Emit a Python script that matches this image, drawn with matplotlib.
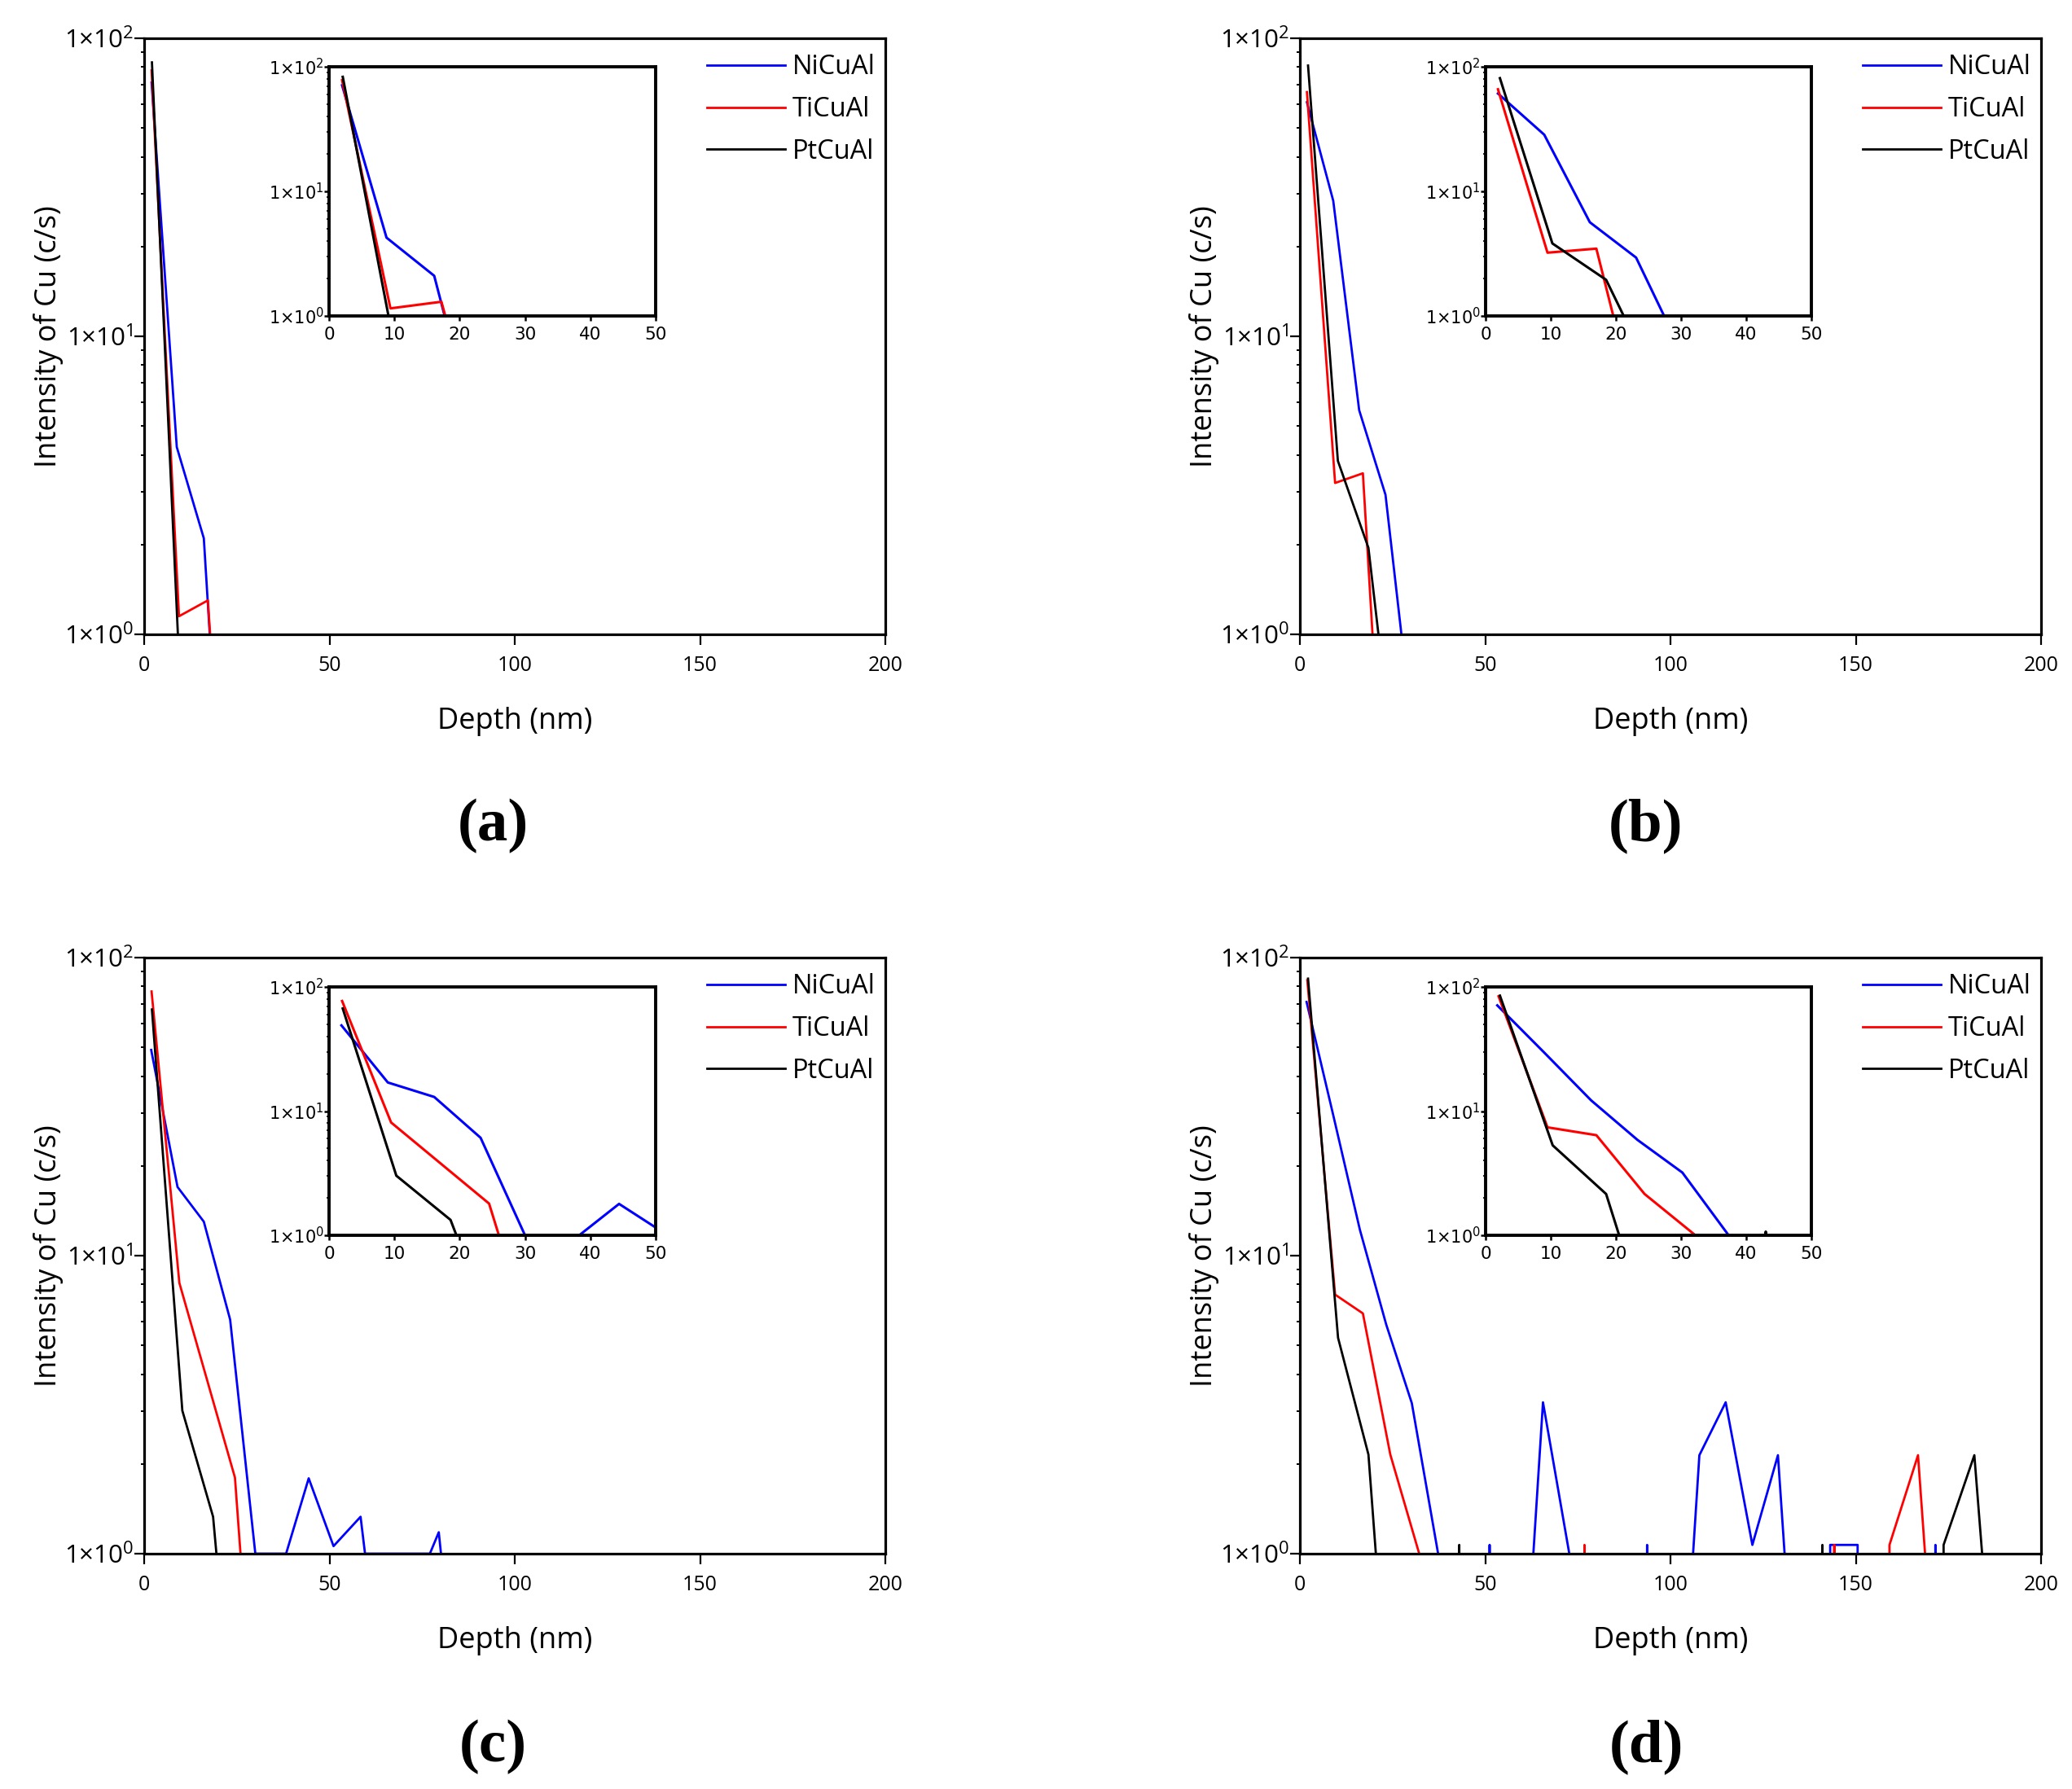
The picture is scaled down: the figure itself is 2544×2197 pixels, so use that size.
import numpy as np
import matplotlib
matplotlib.use('Agg')
import matplotlib.pyplot as plt
from matplotlib.ticker import FuncFormatter, NullLocator, NullFormatter, LogLocator, MultipleLocator

plt.rcParams['font.family'] = ['Open Sans', 'DejaVu Sans']
plt.rcParams['mathtext.fontset'] = 'custom'
plt.rcParams['mathtext.rm'] = 'Open Sans'
plt.rcParams['mathtext.default'] = 'regular'

series_names = ['NiCuAl', 'TiCuAl', 'PtCuAl']
series_colors = ['#0000ff', '#ff0000', '#000000']
panel_tags = ['(a)', '(b)', '(c)', '(d)']

# depth (nm) and Cu intensity (c/s), 0 = no counts
a_ni_depth = [2.0, 8.8, 16.1, 17.7]
a_ni_cu = [71, 4.25, 2.1, 1.0]
a_ti_depth = [2.0, 9.4, 17.2, 17.8]
a_ti_cu = [78, 1.15, 1.3, 1.0]
a_pt_depth = [2.1, 9.1]
a_pt_cu = [83, 1.0]

b_ni_depth = [1.9, 9.0, 16.0, 23.1, 27.4]
b_ni_cu = [61, 28.5, 5.65, 2.94, 1.0]
b_ti_depth = [1.9, 9.5, 17.0, 19.6]
b_ti_cu = [66, 3.22, 3.47, 1.0]
b_pt_depth = [2.2, 10.25, 18.5, 21.2]
b_pt_cu = [81, 3.82, 1.95, 1.0]

c_ni_depth = [1.9, 9.0, 16.1, 23.2, 30.0, 38.3, 44.4, 51.1, 58.4, 59.6, 77.1, 79.5, 80.1]
c_ni_cu = [49, 17.0, 13.0, 6.1, 1.0, 1.0, 1.79, 1.06, 1.33, 1.0, 1.0, 1.18, 1.0]
c_ti_depth = [2.0, 9.5, 24.5, 26.0]
c_ti_cu = [77, 8.1, 1.8, 1.0]
c_pt_depth = [2.1, 10.3, 18.6, 19.5]
c_pt_cu = [67, 3.02, 1.33, 1.0]

d_ni_depth = [1.8, 9.0, 16.2, 23.3, 30.2, 37.3, 44.5, 51.2, 58.0, 63.0, 65.6, 72.7, 80.0,
              87.0, 93.7, 100.0, 106.1, 107.8, 114.9, 122.1, 129.0, 130.8, 137.0, 143.1,
              150.5, 157.0, 165.0, 171.5, 178.0]
d_ni_cu = [71, 29.6, 12.2, 5.87, 3.2, 1.0, 0, 1.07, 0, 1.0, 3.22, 1.0, 0,
           0, 1.07, 0, 1.0, 2.14, 3.22, 1.07, 2.14, 1.0, 0, 1.07,
           1.07, 0, 0, 1.07, 0]
d_ti_depth = [2.0, 9.5, 17.0, 24.4, 32.2, 40.0, 76.8, 110.0, 144.2, 152.0, 159.1, 166.8, 168.7, 176.0]
d_ti_cu = [84, 7.4, 6.4, 2.15, 1.0, 0, 1.07, 0, 1.07, 0, 1.07, 2.14, 1.0, 0]
d_pt_depth = [2.2, 10.3, 18.5, 20.5, 30.0, 43.0, 90.0, 141.0, 160.0, 173.7, 182.0, 184.1, 190.0]
d_pt_cu = [85, 5.3, 2.15, 1.0, 0, 1.07, 0, 1.07, 0, 1.07, 2.14, 1.0, 0]

panels = [
    [(a_ni_depth, a_ni_cu), (a_ti_depth, a_ti_cu), (a_pt_depth, a_pt_cu)],
    [(b_ni_depth, b_ni_cu), (b_ti_depth, b_ti_cu), (b_pt_depth, b_pt_cu)],
    [(c_ni_depth, c_ni_cu), (c_ti_depth, c_ti_cu), (c_pt_depth, c_pt_cu)],
    [(d_ni_depth, d_ni_cu), (d_ti_depth, d_ti_cu), (d_pt_depth, d_pt_cu)],
]

W, H = 2544, 2197
fig = plt.figure(figsize=(W / 100, H / 100), dpi=100)


def px_rect(left, top, right, bottom):
    return [left / W, (H - bottom) / H, (right - left) / W, (bottom - top) / H]


def sci_label(v, pos):
    return '1×10$^{%d}$' % int(round(np.log10(v)))


main_boxes = [(177, 47, 1087, 779), (1596, 47, 2506, 779),
              (177, 1176, 1087, 1908), (1596, 1176, 2506, 1908)]
inset_boxes = [(404, 82, 805, 388), (1824, 82, 2224, 388),
               (404, 1212, 805, 1517), (1824, 1212, 2224, 1517)]
tag_pos = [(605, 1014), (2021, 1014), (605, 2145), (2021, 2145)]

for k in range(4):
    ax = fig.add_axes(px_rect(*main_boxes[k]))
    for (xs, ys), name, col in zip(panels[k], series_names, series_colors):
        ax.plot(xs, ys, color=col, lw=2.0, label=name)
    ax.set_yscale('log', nonpositive='clip')
    ax.set_xlim(0, 200)
    ax.set_ylim(1, 100)
    ax.xaxis.set_major_locator(MultipleLocator(50))
    ax.xaxis.set_minor_locator(NullLocator())
    ax.yaxis.set_major_locator(LogLocator(base=10))
    ax.yaxis.set_minor_locator(LogLocator(base=10, subs=np.arange(2, 10)))
    ax.yaxis.set_major_formatter(FuncFormatter(sci_label))
    ax.yaxis.set_minor_formatter(NullFormatter())
    for s in ax.spines.values():
        s.set_linewidth(2.3)
    ax.tick_params(axis='both', which='major', direction='out', length=9, width=1.6)
    ax.tick_params(axis='x', which='major', labelsize=18, pad=10)
    ax.tick_params(axis='y', which='major', labelsize=22.5, pad=0.5)
    ax.tick_params(axis='y', which='minor', direction='out', length=3, width=1.4)
    ax.set_xlabel('Depth (nm)', fontsize=26, va='center')
    ax.xaxis.set_label_coords(0.5, -0.146)
    ax.set_ylabel('Intensity of Cu (c/s)', fontsize=26, va='center')
    ax.yaxis.set_label_coords(-0.1286, 0.5)
    ax.legend(loc='upper left', bbox_to_anchor=(0.7593, 0.974), frameon=False,
              fontsize=23.5, borderaxespad=0, borderpad=0, handlelength=2.94,
              handletextpad=0.28, labelspacing=0.58)

    ins = fig.add_axes(px_rect(*inset_boxes[k]))
    for (xs, ys), col in zip(panels[k], series_colors):
        ins.plot(xs, ys, color=col, lw=2.2)
    ins.set_yscale('log', nonpositive='clip')
    ins.set_xlim(0, 50)
    ins.set_ylim(1, 100)
    ins.xaxis.set_major_locator(MultipleLocator(10))
    ins.xaxis.set_minor_locator(NullLocator())
    ins.yaxis.set_major_locator(LogLocator(base=10))
    ins.yaxis.set_minor_locator(LogLocator(base=10, subs=np.arange(2, 10)))
    ins.yaxis.set_major_formatter(FuncFormatter(sci_label))
    ins.yaxis.set_minor_formatter(NullFormatter())
    for s in ins.spines.values():
        s.set_linewidth(2.8)
    ins.tick_params(axis='both', which='major', direction='out', length=4, width=1.8)
    ins.tick_params(axis='y', which='minor', direction='out', length=2.5, width=1.2)
    ins.tick_params(axis='x', which='major', labelsize=15.5, pad=5.5)
    ins.tick_params(axis='y', which='major', labelsize=15, pad=0.5)
    for lab in ins.get_xticklabels() + ins.get_yticklabels():
        lab.set_family('DejaVu Sans')

    tx, ty = tag_pos[k]
    fig.text(tx / W, 1 - ty / H, panel_tags[k], ha='center', va='center',
             fontsize=54, fontweight='bold', family='Liberation Serif')

fig.savefig('out.png', dpi=100)
